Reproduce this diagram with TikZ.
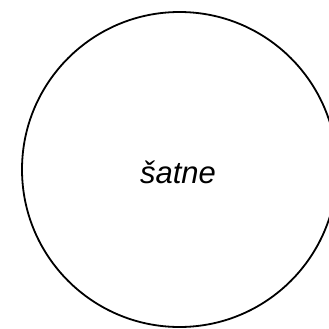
\documentclass[tikz,border=0pt]{standalone}
\usepackage{fontspec}
\setmainfont{Liberation Sans}
\begin{document}
\begin{tikzpicture}[x=1bp,y=-1bp,
  circ/.style={circle,draw=black,line width=1.8bp,minimum size=315bp,inner sep=0pt},
  lbl/.style={font=\fontsize{31bp}{36bp}\selectfont\itshape}]
\useasboundingbox (0,0) rectangle (329,329);
\node[circ] (c) at (179.5,169.5) {};
\node[lbl] (t) at (178,172) {šatne};
\end{tikzpicture}
\end{document}
